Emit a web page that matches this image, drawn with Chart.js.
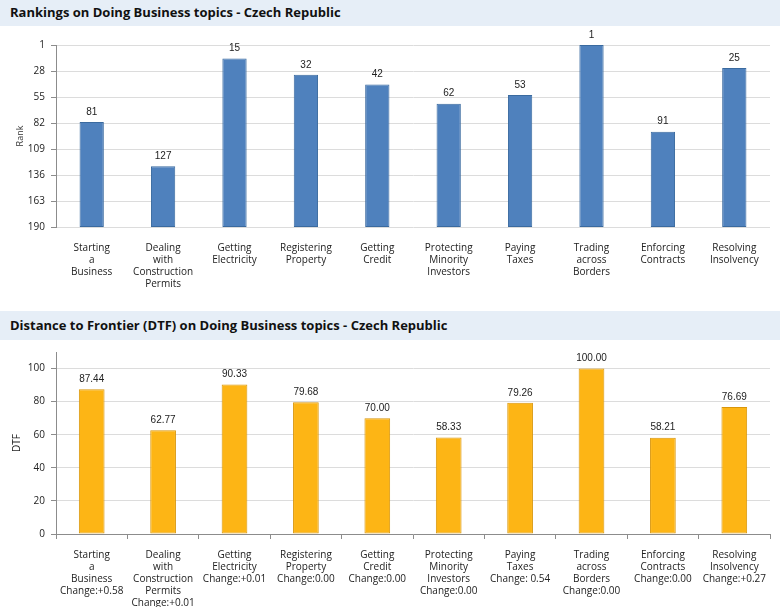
<!DOCTYPE html>
<html>
<head>
<meta charset="utf-8">
<script src="https://cdn.jsdelivr.net/npm/chart.js@4"></script>
<style>
  body { margin: 0; background: #fff; width: 780px; overflow: hidden; }
  .head {
    background: #e6eef7;
    font-family: "Open Sans", sans-serif;
    font-weight: bold;
    font-size: 13px;
    color: #111;
    padding-left: 10px;
    box-sizing: border-box;
  }
  canvas { display: block; }
</style>
</head>
<body>
<div class="head" style="height:26px;line-height:24px;">Rankings on Doing Business topics - Czech Republic</div>
<canvas id="rankChart" width="780" height="285"></canvas>
<div class="head" style="height:29px;line-height:29px;">Distance to Frontier (DTF) on Doing Business topics - Czech Republic</div>
<canvas id="dtfChart" width="780" height="267"></canvas>
<script>
// topics, split into lines like the original axis
var topics = [
  ["Starting", "a", "Business"],
  ["Dealing", "with", "Construction", "Permits"],
  ["Getting", "Electricity"],
  ["Registering", "Property"],
  ["Getting", "Credit"],
  ["Protecting", "Minority", "Investors"],
  ["Paying", "Taxes"],
  ["Trading", "across", "Borders"],
  ["Enforcing", "Contracts"],
  ["Resolving", "Insolvency"]
];
var ranks = [81, 127, 15, 32, 42, 62, 53, 1, 91, 25];
var dtf = [87.44, 62.77, 90.33, 79.68, 70.00, 58.33, 79.26, 100.00, 58.21, 76.69];
var changes = ["Change:+0.58", "Change:+0.01", "Change:+0.01", "Change:0.00", "Change:0.00",
  "Change:0.00", "Change: 0.54", "Change:0.00", "Change:0.00", "Change:+0.27"];
var rankTicks = [1, 28, 55, 82, 109, 136, 163, 190];
var dtfTicks = [0, 20, 40, 60, 80, 100];

var tickFont = { family: "Open Sans", size: 10 };
var gridColor = "#dcdcdc";
var axisColor = "#8c8c8c";

// writes the value above each bar
var valueLabels = {
  id: "valueLabels",
  afterDatasetsDraw: function(chart, args, opts) {
    var ctx = chart.ctx;
    var meta = chart.getDatasetMeta(0);
    ctx.save();
    ctx.font = "10px Arial";
    ctx.fillStyle = "#222";
    ctx.textAlign = "center";
    ctx.textBaseline = "bottom";
    meta.data.forEach(function(bar, i) {
      ctx.fillText(opts.texts[i], bar.x, Math.min(bar.y, bar.base) - 5);
    });
    ctx.restore();
  }
};

// ranks are drawn as floating bars from the bottom (190) up to the rank
var rankData = ranks.map(function(r) { return [190, r]; });

new Chart(document.getElementById("rankChart"), {
  type: "bar",
  data: {
    labels: topics,
    datasets: [{
      data: rankData,
      backgroundColor: "#4f81bd",
      borderColor: "#3a6a9f",
      borderWidth: 1,
      borderSkipped: false,
      categoryPercentage: 1,
      barPercentage: 0.34
    }]
  },
  plugins: [valueLabels],
  options: {
    responsive: false,
    animation: false,
    layout: { padding: { top: 19, right: 10, left: 0, bottom: 0 } },
    plugins: {
      legend: { display: false },
      tooltip: { enabled: false },
      valueLabels: { texts: ranks.map(String) }
    },
    scales: {
      x: {
        grid: { display: false },
        border: { display: false },
        ticks: { color: "#222", font: tickFont, maxRotation: 0, autoSkip: false, padding: 7 },
        afterFit: function(s) { s.height = 84; }
      },
      y: {
        reverse: true,
        min: 1,
        max: 190,
        afterBuildTicks: function(s) { s.ticks = rankTicks.map(function(v) { return { value: v }; }); },
        grid: { color: gridColor, tickLength: 5, tickColor: axisColor },
        border: { color: axisColor },
        ticks: { color: "#222", font: tickFont, padding: 6 },
        title: { display: true, text: "Rank", color: "#333", font: { family: "Open Sans", size: 9 }, padding: { top: 15, bottom: 0 } },
        afterFit: function(s) { s.width = 56; }
      }
    }
  }
});

var dtfLabels = topics.map(function(t, i) { return t.concat([changes[i]]); });

new Chart(document.getElementById("dtfChart"), {
  type: "bar",
  data: {
    labels: dtfLabels,
    datasets: [{
      data: dtf,
      backgroundColor: "#fdb515",
      borderColor: "#d9960a",
      borderWidth: 1,
      borderSkipped: false,
      categoryPercentage: 1,
      barPercentage: 0.36
    }]
  },
  plugins: [valueLabels],
  options: {
    responsive: false,
    animation: false,
    layout: { padding: { top: 9, right: 10, left: 0, bottom: 0 } },
    plugins: {
      legend: { display: false },
      tooltip: { enabled: false },
      valueLabels: { texts: dtf.map(function(v) { return v.toFixed(2); }) }
    },
    scales: {
      x: {
        grid: { display: true, drawOnChartArea: false, offset: true, tickLength: 5, color: axisColor },
        border: { color: axisColor },
        ticks: { color: "#222", font: tickFont, maxRotation: 0, autoSkip: false, padding: 10 },
        afterFit: function(s) { s.height = 73; }
      },
      y: {
        min: 0,
        max: 110,
        afterBuildTicks: function(s) { s.ticks = dtfTicks.map(function(v) { return { value: v }; }); },
        grid: { color: gridColor, tickLength: 5, tickColor: axisColor },
        border: { color: axisColor },
        ticks: { color: "#222", font: tickFont, padding: 6 },
        title: { display: true, text: "DTF", color: "#222", font: { family: "Open Sans", size: 10 }, padding: { top: 11, bottom: 0 } },
        afterFit: function(s) { s.width = 56; }
      }
    }
  }
});
</script>
</body>
</html>
